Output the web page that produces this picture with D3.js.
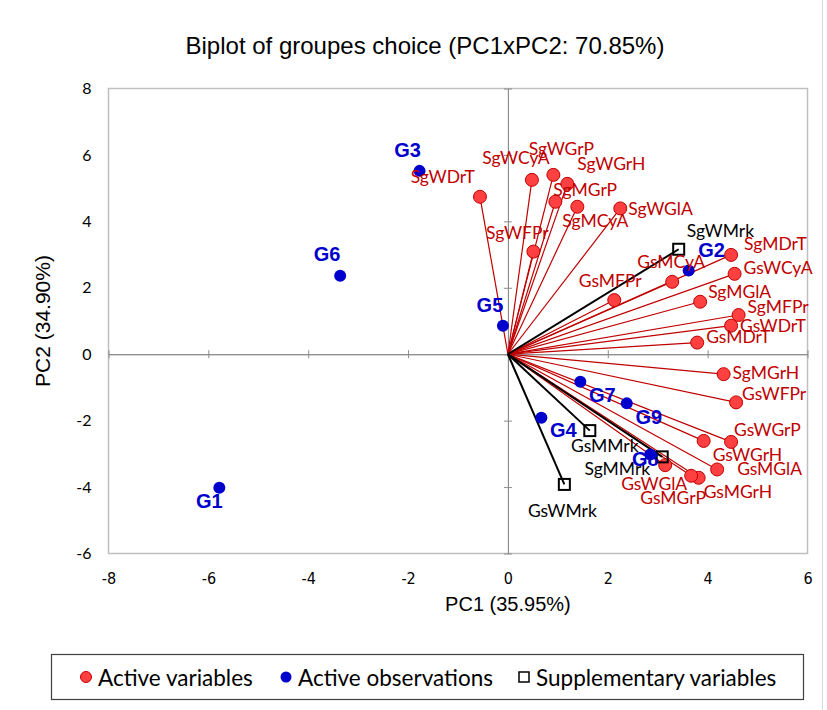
<!DOCTYPE html>
<html>
<head>
<meta charset="utf-8">
<script src="https://cdn.jsdelivr.net/npm/d3@7"></script>
<style>
  body { margin: 0; background: #fff; }
  svg { display: block; }
</style>
</head>
<body>
<div class="biplot-container"></div>
<script>
// active variables (red)
const varNames = ["SgWDrT","SgWCyA","SgWGrP","SgWGrH","SgMGrP","SgMCyA","SgWGlA","SgWFPr",
  "SgMDrT","GsWCyA","GsMCyA","GsMFPr","SgMGlA","SgMFPr","GsWDrT","GsMDrT",
  "SgMGrH","GsWFPr","GsWGrP","GsWGrH","GsMGlA","GsMGrH","GsMGrP","GsWGlA"];
const varPC1 = [-0.56,0.48,0.91,1.19,0.95,1.39,2.25,0.51,
  4.47,4.54,3.29,2.13,3.85,4.62,4.47,3.79,
  4.32,4.57,4.47,3.92,4.19,3.82,3.67,3.15];
const varPC2 = [4.74,5.25,5.40,5.13,4.59,4.44,4.39,3.09,
  2.99,2.42,2.18,1.63,1.58,1.18,0.86,0.35,
  -0.60,-1.45,-2.64,-2.61,-3.47,-3.72,-3.66,-3.34];

// active observations (blue)
const obsNames = ["G1","G2","G3","G4","G5","G6","G7","G8","G9"];
const obsPC1 = [-5.78,3.62,-1.77,0.67,-0.10,-3.36,1.45,2.85,2.38];
const obsPC2 = [-4.02,2.52,5.52,-1.91,0.86,2.36,-0.83,-3.02,-1.48];

// supplementary variables (squares)
const supNames = ["SgWMrk","SgMMrk","GsMMrk","GsWMrk"];
const supPC1 = [3.42,3.09,1.64,1.13];
const supPC2 = [3.16,-3.09,-2.30,-3.92];

const xTicks = [-8,-6,-4,-2,0,2,4,6];
const yTicks = [-6,-4,-2,0,2,4,6,8];
const legendLabels = ["Active variables","Active observations","Supplementary variables"];

// label offsets in px: [dx, dy, anchor]
const labelPos = {
  SgWDrT:[-5,-20,"end"], SgWCyA:[-16,-22,"middle"], SgWGrP:[8,-26,"middle"], SgWGrH:[10,-20,"start"],
  SgMGrP:[-2,-12,"start"], SgMCyA:[18,14,"middle"], SgWGlA:[8,0,"start"], SgWFPr:[-16,-19,"middle"],
  SgMDrT:[13,-11,"start"], GsWCyA:[9,-6,"start"], GsMCyA:[-1,-20,"middle"], GsMFPr:[-4,-20,"middle"],
  SgMGlA:[8,-10,"start"], SgMFPr:[9,-9,"start"], GsWDrT:[9,0,"start"], GsMDrT:[9,-6,"start"],
  SgMGrH:[9,-2,"start"], GsWFPr:[6,-9,"start"], GsWGrP:[3,-12,"start"], GsWGrH:[9,14,"start"],
  GsMGlA:[20,-1,"start"], GsMGrH:[5,14,"start"], GsMGrP:[-18,22,"middle"], GsWGlA:[-11,18,"middle"],
  SgWMrk:[8,-19,"start"], GsMMrk:[15,15,"middle"], SgMMrk:[-12,12,"end"], GsWMrk:[-2,26,"middle"],
  G1:[-10,13,"middle"], G2:[23,-21,"middle"], G3:[-12,-21,"middle"], G4:[22,12,"middle"],
  G5:[-13,-21,"middle"], G6:[-13,-22,"middle"], G7:[22,13,"middle"], G8:[-5,4,"middle"], G9:[22,14,"middle"]
};

const width = 827, height = 710;
const plot = {left: 108.5, top: 88.5, right: 807.5, bottom: 553.5};
const red = "#c00000", redFill = "#ff4040", blue = "#0000cc";
const labelFont = "Lato, 'Open Sans', sans-serif";
const arial = "'Liberation Sans', Arial, sans-serif";

const x = d3.scaleLinear().domain([-8, 6]).range([plot.left, plot.right]);
const y = d3.scaleLinear().domain([-6, 8]).range([plot.bottom, plot.top]);

const svg = d3.select('.biplot-container')
  .append('svg')
  .attr('width', width)
  .attr('height', height);

// chart frame edge
svg.append('line')
  .attr('x1', 822.5).attr('x2', 822.5).attr('y1', 0).attr('y2', height)
  .attr('stroke', '#d9d9d9');

svg.append('text')
  .attr('x', 425).attr('y', 45)
  .attr('text-anchor', 'middle').attr('dominant-baseline', 'central')
  .style('font-family', arial).style('font-size', '24px')
  .text('Biplot of groupes choice (PC1xPC2: 70.85%)');

// plot border
svg.append('rect')
  .attr('x', plot.left).attr('y', plot.top)
  .attr('width', plot.right - plot.left).attr('height', plot.bottom - plot.top)
  .attr('fill', 'none').attr('stroke', '#bfbfbf').attr('stroke-width', 1.5);

// tick labels (plain hyphen for negatives, like the original)
const yAxis = svg.append('g')
  .attr('transform', 'translate(' + (plot.left - 14) + ',0)')
  .call(d3.axisLeft(y).tickValues(yTicks).tickSize(0).tickFormat(d => String(d)));
yAxis.select('.domain').remove();
yAxis.selectAll('text').style('font-family', labelFont).style('font-size', '16px').attr('fill', '#000');

const xAxis = svg.append('g')
  .attr('transform', 'translate(0,' + (plot.bottom + 16) + ')')
  .call(d3.axisBottom(x).tickValues(xTicks).tickSize(0).tickFormat(d => String(d)));
xAxis.select('.domain').remove();
xAxis.selectAll('text')
  .style('font-family', "'Liberation Sans Narrow', 'Arial Narrow', 'DejaVu Sans Condensed', sans-serif")
  .style('font-size', '16px').attr('fill', '#000');

// zero lines with crossing ticks
[d3.axisLeft(y), d3.axisRight(y)].forEach(ax => {
  svg.append('g').attr('class', 'zero-axis')
    .attr('transform', 'translate(' + x(0) + ',0)')
    .call(ax.tickValues(yTicks).tickSize(4).tickSizeOuter(0).tickFormat(''));
});
[d3.axisTop(x), d3.axisBottom(x)].forEach(ax => {
  svg.append('g').attr('class', 'zero-axis')
    .attr('transform', 'translate(0,' + y(0) + ')')
    .call(ax.tickValues(xTicks).tickSize(4).tickSizeOuter(0).tickFormat(''));
});
svg.selectAll('.zero-axis path, .zero-axis line').attr('stroke', '#8c8c8c');

// axis titles
svg.append('text')
  .attr('x', x(0)).attr('y', 604)
  .attr('text-anchor', 'middle').attr('dominant-baseline', 'central')
  .style('font-family', arial).style('font-size', '20px')
  .text('PC1 (35.95%)');
svg.append('text')
  .attr('transform', 'translate(42,' + ((plot.top + plot.bottom) / 2) + ') rotate(-90)')
  .attr('text-anchor', 'middle').attr('dominant-baseline', 'central')
  .style('font-family', arial).style('font-size', '21px')
  .text('PC2 (34.90%)');

const vars = varNames.map((n, i) => ({name: n, pc1: varPC1[i], pc2: varPC2[i]}));
const obs = obsNames.map((n, i) => ({name: n, pc1: obsPC1[i], pc2: obsPC2[i]}));
const sups = supNames.map((n, i) => ({name: n, pc1: supPC1[i], pc2: supPC2[i]}));

// vectors
svg.append('g').selectAll('line').data(vars).join('line')
  .attr('x1', x(0)).attr('y1', y(0))
  .attr('x2', d => x(d.pc1)).attr('y2', d => y(d.pc2))
  .attr('stroke', red).attr('stroke-width', 1.2);
svg.append('g').selectAll('line').data(sups).join('line')
  .attr('x1', x(0)).attr('y1', y(0))
  .attr('x2', d => x(d.pc1)).attr('y2', d => y(d.pc2))
  .attr('stroke', '#000').attr('stroke-width', 2);

svg.append('g').selectAll('circle').data(vars).join('circle')
  .attr('cx', d => x(d.pc1)).attr('cy', d => y(d.pc2)).attr('r', 6.5)
  .attr('fill', redFill).attr('stroke', red).attr('stroke-width', 1);

svg.append('g').selectAll('circle').data(obs).join('circle')
  .attr('cx', d => x(d.pc1)).attr('cy', d => y(d.pc2)).attr('r', 6)
  .attr('fill', blue);

svg.append('g').selectAll('rect').data(sups).join('rect')
  .attr('x', d => x(d.pc1) - 5.5).attr('y', d => y(d.pc2) - 5.5)
  .attr('width', 11).attr('height', 11)
  .attr('fill', 'none').attr('stroke', '#000').attr('stroke-width', 2);

// labels
function addLabels(data, color, font, size, weight) {
  svg.append('g').selectAll('text').data(data).join('text')
    .attr('x', d => x(d.pc1) + labelPos[d.name][0])
    .attr('y', d => y(d.pc2) + labelPos[d.name][1])
    .attr('text-anchor', d => labelPos[d.name][2])
    .attr('dominant-baseline', 'central')
    .attr('fill', color)
    .style('font-family', font).style('font-size', size).style('font-weight', weight)
    .text(d => d.name);
}
addLabels(vars, red, labelFont, '17.5px', 'normal');
addLabels(sups, '#000', labelFont, '17.5px', 'normal');
addLabels(obs, blue, arial, '20px', 'bold');

// legend
const legend = svg.append('g');
legend.append('rect')
  .attr('x', 51.5).attr('y', 654.5).attr('width', 752).attr('height', 45)
  .attr('fill', '#fff').attr('stroke', '#404040').attr('stroke-width', 1.2);
const legendX = [86, 286, 524];
legendLabels.forEach((t, i) => {
  const cx = legendX[i], cy = 677;
  if (i === 0) {
    legend.append('circle').attr('cx', cx).attr('cy', cy).attr('r', 5.5)
      .attr('fill', redFill).attr('stroke', red);
  } else if (i === 1) {
    legend.append('circle').attr('cx', cx).attr('cy', cy).attr('r', 5.5).attr('fill', blue);
  } else {
    legend.append('rect').attr('x', cx - 5).attr('y', cy - 5).attr('width', 10).attr('height', 10)
      .attr('fill', 'none').attr('stroke', '#000').attr('stroke-width', 1.5);
  }
  legend.append('text')
    .attr('x', cx + 12).attr('y', cy)
    .attr('dominant-baseline', 'central')
    .style('font-family', labelFont).style('font-size', '22.5px')
    .text(t);
});
</script>
</body>
</html>
